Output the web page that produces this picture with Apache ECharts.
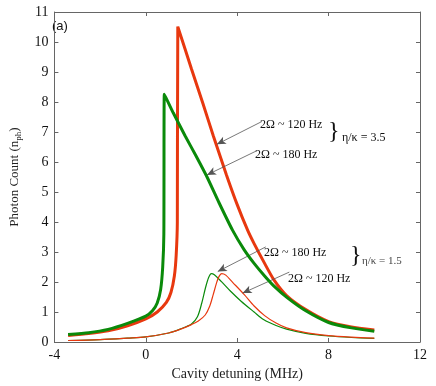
<!DOCTYPE html>
<html>
	<head>
		<meta charset="UTF-8">
		<title>Photon count</title>
		<script src="https://cdn.jsdelivr.net/npm/echarts@6/dist/echarts.min.js"></script>
		<style>
			html, body { margin: 0; padding: 0; background: #fff; }
			#main { width: 436px; height: 386px; }
		</style>
	</head>
	<body>
		<div id="main"></div>
		<script>
			// 坐标轴刻度
			var xTicks = [-4, 0, 4, 8, 12];
			var yTicks = [0, 11];

			// eta/kappa = 3.5, 2Omega ~ 120 Hz (粗红线)
			var redThick = [[-3.4,0.22],[-2.5,0.28],[-1.65,0.37],[-0.8,0.54],[0,0.77],[0.5,1.0],[0.9,1.32],[1.1,1.65],[1.25,2.2],[1.33,2.9],[1.38,4.0],[1.40,10.51],[2.0,9.1],[2.5,7.95],[2.96,6.86],[3.53,5.57],[4.0,4.58],[4.46,3.72],[4.74,3.28],[5.2,2.62],[5.6,2.08],[6.16,1.55],[7,1.08],[8,0.68],[9,0.5],[10,0.4]];
			// eta/kappa = 3.5, 2Omega ~ 180 Hz (粗绿线)
			var greenThick = [[-3.4,0.25],[-2.5,0.31],[-1.65,0.42],[-0.8,0.62],[0,0.86],[0.3,1.05],[0.5,1.3],[0.65,1.75],[0.74,2.5],[0.79,3.6],[0.81,8.26],[1.2,7.64],[1.73,6.86],[2.2,6.2],[2.68,5.5],[3.2,4.65],[3.8,3.72],[4.3,3.08],[4.74,2.62],[5.2,2.2],[5.6,1.87],[6.2,1.47],[7,1.04],[8,0.65],[9,0.47],[10,0.36]];
			// eta/kappa = 1.5, 2Omega ~ 120 Hz (细红线)
			var redThin = [[-3.4,0.05],[-2,0.08],[-0.8,0.13],[0,0.17],[1,0.3],[1.5,0.42],[2.0,0.58],[2.3,0.7],[2.6,0.9],[2.8,1.2],[2.95,1.58],[3.1,1.98],[3.2,2.18],[3.32,2.28],[3.5,2.23],[3.8,1.99],[4.32,1.57],[4.74,1.2],[5.2,0.88],[5.7,0.63],[6.16,0.47],[7,0.31],[8,0.21],[9,0.16],[10,0.13]];
			// eta/kappa = 1.5, 2Omega ~ 180 Hz (细绿线)
			var greenThin = [[-3.4,0.05],[-2,0.08],[-0.8,0.13],[0,0.17],[1,0.3],[1.5,0.43],[2.0,0.6],[2.26,0.84],[2.45,1.3],[2.61,1.8],[2.75,2.15],[2.87,2.28],[3.0,2.24],[3.3,2.02],[3.7,1.7],[4.17,1.36],[4.74,1.0],[5.17,0.74],[5.7,0.55],[6.16,0.43],[7,0.29],[8,0.2],[9,0.15],[10,0.12]];

			// 箭头 [起点, 终点]
			var arrows = [
				[[5.08, 7.35], [3.11, 6.59]],
				[[4.87, 6.38], [2.68, 5.57]],
				[[5.25, 3.17], [3.15, 2.35]],
				[[6.28, 2.33], [4.24, 1.63]]
			];

			var RED = '#e8380f';
			var GREEN = '#0a8a0a';
			var AXIS = '#666';
			var SERIF = '"Liberation Serif", "DejaVu Serif", serif';

			var myChart = echarts.init(document.getElementById('main'));

			function axisBase(extra) {
				var a = {
					type: 'value',
					axisLine: { show: true, onZero: false, lineStyle: { color: AXIS, width: 1 } },
					axisTick: { show: true, inside: true, length: 4, lineStyle: { color: AXIS } },
					splitLine: { show: false },
					axisLabel: { color: '#111', fontFamily: SERIF, fontSize: 14 }
				};
				for (var k in extra) a[k] = extra[k];
				return a;
			}

			var option = {
				animation: false,
				backgroundColor: '#fff',
				grid: { left: 45, right: 16, top: 12, bottom: 34 },
				xAxis: [
					axisBase({
						min: xTicks[0], max: xTicks[xTicks.length - 1], interval: 4,
						position: 'bottom',
						axisLabel: { color: '#111', fontFamily: SERIF, fontSize: 14, margin: 6 },
						name: 'Cavity detuning (MHz)',
						nameLocation: 'middle',
						nameGap: 25,
						nameTextStyle: { color: '#222', fontFamily: SERIF, fontSize: 14 }
					}),
					axisBase({
						min: xTicks[0], max: xTicks[xTicks.length - 1], interval: 4,
						position: 'top',
						axisLabel: { show: false }
					})
				],
				yAxis: [
					axisBase({
						min: yTicks[0], max: yTicks[1], interval: 1,
						position: 'left',
						axisLabel: { color: '#111', fontFamily: SERIF, fontSize: 14, margin: 6 },
						name: 'Photon Count (n{s|ph})',
						nameLocation: 'middle',
						nameGap: 28,
						nameTextStyle: {
							color: '#222', fontFamily: SERIF, fontSize: 13,
							rich: { s: { fontFamily: SERIF, fontSize: 9, color: '#222', padding: [9, 0, 0, 0] } }
						}
					}),
					axisBase({
						min: yTicks[0], max: yTicks[1], interval: 1,
						position: 'right',
						axisLabel: { show: false }
					})
				],
				series: [
					{
						name: 'thin180', type: 'line', data: greenThin, showSymbol: false, smooth: 0.3,
						lineStyle: { color: GREEN, width: 1.2 }, z: 2
					},
					{
						name: 'thin120', type: 'line', data: redThin, showSymbol: false, smooth: 0.3,
						lineStyle: { color: RED, width: 1.2 }, z: 3
					},
					{
						name: 'thick120', type: 'line', data: redThick, showSymbol: false, smooth: 0.2,
						lineStyle: { color: RED, width: 3 }, z: 4,
						markLine: {
							silent: true,
							symbol: ['none', 'arrow'],
							symbolSize: [6, 9],
							label: { show: false },
							lineStyle: { color: '#555', width: 0.8, type: 'solid' },
							data: arrows.map(function(a) {
								return [{ coord: a[0] }, { coord: a[1] }];
							})
						}
					},
					{
						name: 'thick180', type: 'line', data: greenThick, showSymbol: false, smooth: 0.2,
						lineStyle: { color: GREEN, width: 3 }, z: 5
					}
				],
				graphic: [
					{ type: 'text', left: 52, top: 20, style: { text: '(a)', font: '13px "Liberation Sans", Arial, sans-serif', fill: '#111' } },
					{ type: 'text', x: 260, y: 125, style: { text: '2Ω ~ 120 Hz', font: '12px ' + SERIF, fill: '#111', verticalAlign: 'middle' } },
					{ type: 'text', x: 255, y: 155, style: { text: '2Ω ~ 180 Hz', font: '12px ' + SERIF, fill: '#111', verticalAlign: 'middle' } },
					{ type: 'text', x: 328, y: 132, style: { text: '}', font: '24px ' + SERIF, fill: '#111', verticalAlign: 'middle' } },
					{ type: 'text', x: 342, y: 138, style: { text: 'η/κ = 3.5', font: '12px ' + SERIF, fill: '#111', verticalAlign: 'middle' } },
					{ type: 'text', x: 264, y: 253, style: { text: '2Ω ~ 180 Hz', font: '12px ' + SERIF, fill: '#111', verticalAlign: 'middle' } },
					{ type: 'text', x: 288, y: 279, style: { text: '2Ω ~ 120 Hz', font: '12px ' + SERIF, fill: '#111', verticalAlign: 'middle' } },
					{ type: 'text', x: 350, y: 256, style: { text: '}', font: '24px ' + SERIF, fill: '#111', verticalAlign: 'middle' } },
					{ type: 'text', x: 362, y: 261, style: { text: 'η/κ = 1.5', font: '11px ' + SERIF, fill: '#444', verticalAlign: 'middle' } }
				]
			};

			myChart.setOption(option);
		</script>
	</body>
</html>
